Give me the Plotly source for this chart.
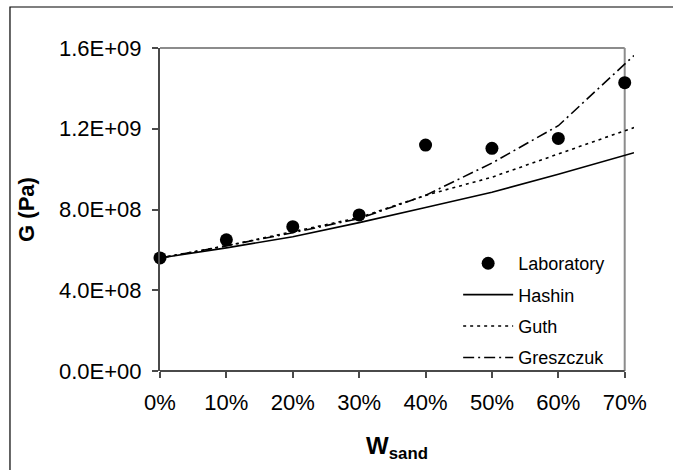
import plotly.graph_objects as go

# Sand mass fraction and shear modulus G (Pa)
w_lab = [0.0, 0.1, 0.2, 0.3, 0.4, 0.5, 0.6, 0.7]
g_lab = [5.6e8, 6.5e8, 7.15e8, 7.73e8, 1.119e9, 1.103e9, 1.152e9, 1.428e9]

# Model predictions
w_model = [0.0, 0.1, 0.2, 0.3, 0.4, 0.5, 0.6, 0.7, 0.714]
g_hashin = [5.6e8, 6.1e8, 6.65e8, 7.35e8, 8.1e8, 8.85e8, 9.75e8, 1.068e9, 1.081e9]
g_guth = [5.6e8, 6.2e8, 6.9e8, 7.6e8, 8.7e8, 9.6e8, 1.075e9, 1.19e9, 1.206e9]
g_greszczuk = [5.6e8, 6.2e8, 6.85e8, 7.55e8, 8.7e8, 1.03e9, 1.215e9, 1.52e9, 1.563e9]

x_ticks = [0.0, 0.1, 0.2, 0.3, 0.4, 0.5, 0.6, 0.7]
x_ticktext = ["0%", "10%", "20%", "30%", "40%", "50%", "60%", "70%"]
y_ticks = [0, 4e8, 8e8, 1.2e9, 1.6e9]
y_ticktext = ["0.0E+00", "4.0E+08", "8.0E+08", "1.2E+09", "1.6E+09"]

FONT = "Liberation Sans, Arial, sans-serif"
AXIS_COLOR = "#4a4a4a"
FRAME_COLOR = "#8c8c8c"

fig = go.Figure()

fig.add_trace(go.Scatter(
    x=w_model, y=g_hashin, mode="lines", name="Hashin",
    line=dict(color="black", width=1.6), legendrank=2, legendgroup="h",
))
fig.add_trace(go.Scatter(
    x=w_model, y=g_guth, mode="lines", name="Guth",
    line=dict(color="black", width=1.6, dash="3px,4px"), legendrank=3, legendgroup="g",
))
fig.add_trace(go.Scatter(
    x=w_model, y=g_greszczuk, mode="lines", name="Greszczuk",
    line=dict(color="black", width=1.6, dash="11px,4px,2px,4px"), legendrank=4, legendgroup="z",
))
fig.add_trace(go.Scatter(
    x=w_lab, y=g_lab, mode="markers", name="Laboratory",
    marker=dict(color="black", size=13), legendrank=1, legendgroup="l",
    cliponaxis=False,
))

# plot-area frame (top and right) and bottom axis line
fig.add_shape(type="line", xref="x", yref="paper", x0=0, x1=0.7, y0=1, y1=1,
              line=dict(color=FRAME_COLOR, width=2), layer="below")
fig.add_shape(type="line", xref="x", yref="paper", x0=0.7, x1=0.7, y0=0, y1=1,
              line=dict(color=FRAME_COLOR, width=2), layer="below")
fig.add_shape(type="line", xref="x", yref="paper", x0=0, x1=0.7, y0=0, y1=0,
              line=dict(color=AXIS_COLOR, width=2), layer="below")
# outer chart border
fig.add_shape(type="rect", xref="paper", yref="paper",
              x0=-0.3165, x1=1.2, y0=-0.6, y1=1.127,
              line=dict(color="black", width=1.2))

fig.update_layout(
    width=673, height=470,
    margin=dict(l=160, r=39, t=48, b=99),
    paper_bgcolor="white", plot_bgcolor="white",
    font=dict(family=FONT, color="black"),
    showlegend=True,
    legend=dict(
        x=0.629, y=0.39, xanchor="left", yanchor="top",
        bgcolor="rgba(0,0,0,0)", font=dict(size=18, family=FONT),
        itemwidth=50, tracegroupgap=5,
    ),
    xaxis=dict(
        range=[0, 0.714], tickvals=x_ticks, ticktext=x_ticktext,
        ticks="outside", ticklen=6, tickwidth=1.5, tickcolor=AXIS_COLOR,
        showline=False, showgrid=False, zeroline=False,
        tickfont=dict(size=22, family=FONT), ticklabelstandoff=6,
        title=dict(text="<b>W<sub>sand</sub></b>", font=dict(size=24, family=FONT), standoff=22),
    ),
    yaxis=dict(
        range=[0, 1.6e9], tickvals=y_ticks, ticktext=y_ticktext,
        ticks="outside", ticklen=6, tickwidth=1.5, tickcolor=AXIS_COLOR,
        showline=True, linecolor=AXIS_COLOR, linewidth=2,
        showgrid=False, zeroline=False,
        tickfont=dict(size=22, family=FONT), ticklabelstandoff=6,
        title=dict(text="<b>G (Pa)</b>", font=dict(size=22, family=FONT), standoff=18),
    ),
)

fig.write_html("out.html")
